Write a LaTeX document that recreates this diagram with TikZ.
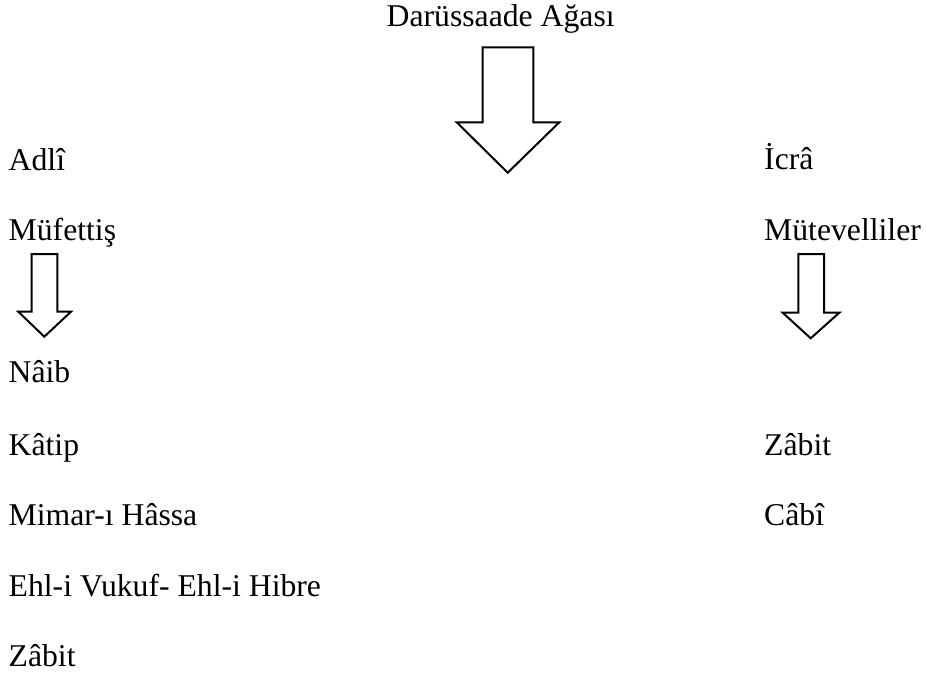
\documentclass[tikz,border=0pt]{standalone}
\usepackage{fontspec}
\setmainfont{Liberation Serif}
\begin{document}
\begin{tikzpicture}[x=1pt,y=-1pt,
  lbl/.style={anchor=base west,inner sep=0pt,font=\fontsize{31.7}{38}\selectfont},
  blockarrow/.style={draw=black,line width=2pt,fill=white,line join=miter}]
\useasboundingbox (0,0) rectangle (926,677);
\node[lbl] (title) at (386.5,26.7) {Darüssaade Ağası};
% left column
\node[lbl] (adli) at (8.5,170) {Adlî};
\node[lbl] (mufettis) at (8.5,240) {Müfettiş};
\node[lbl] (naib) at (8.5,382.7) {Nâib};
\node[lbl] (katip) at (8.5,455.3) {Kâtip};
\node[lbl] (mimar) at (8.5,525) {Mimar-ı Hâssa};
\node[lbl] (ehl) at (8.5,596.7) {Ehl-i Vukuf- Ehl-i Hibre};
\node[lbl] (zabitL) at (8.5,666.7) {Zâbit};
% right column
\node[lbl] (icra) at (764,169.3) {İcrâ};
\node[lbl] (mutevelli) at (764,240) {Mütevelliler};
\node[lbl] (zabitR) at (764,455.3) {Zâbit};
\node[lbl] (cabi) at (764,525) {Câbî};
% big arrow
\draw[blockarrow] (482.7,47.3) -- (533.3,47.3) -- (533.3,122.3) -- (559.3,122.3)
  -- (507.7,172.7) -- (456.7,122.3) -- (482.7,122.3) -- cycle;
% left arrow
\draw[blockarrow] (31.7,254) -- (57.3,254) -- (57.3,311.7) -- (71,311.7)
  -- (44.3,336.7) -- (18.3,311.7) -- (31.7,311.7) -- cycle;
% right arrow
\draw[blockarrow] (798.3,254) -- (824,254) -- (824,312.7) -- (839.3,312.7)
  -- (810.7,338.3) -- (782.7,312.7) -- (798.3,312.7) -- cycle;
\end{tikzpicture}
\end{document}
